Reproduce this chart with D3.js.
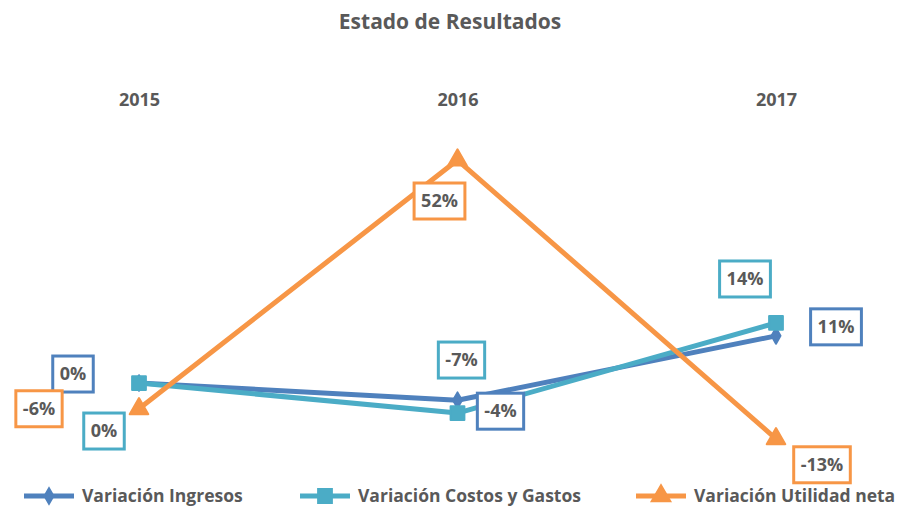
<!DOCTYPE html>
<html>
<head>
<meta charset="utf-8">
<script src="https://cdn.jsdelivr.net/npm/d3@7"></script>
<style>
  body { margin: 0; background: #fff; }
  text { font-family: "Open Sans", "Liberation Sans", sans-serif; font-weight: bold; fill: #595959; }
</style>
</head>
<body>
<div id="chart"></div>
<script>
// chart values
var years = ["2015", "2016", "2017"];
var ingresos = [0.00, -0.04, 0.11];
var costos = [0.00, -0.07, 0.14];
var utilidad = [-0.06, 0.52, -0.13];
var seriesNames = ["Variación Ingresos", "Variación Costos y Gastos", "Variación Utilidad neta"];

var width = 898, height = 506;

var svg = d3.select("#chart").append("svg")
    .attr("width", width)
    .attr("height", height);

// title
svg.append("text")
    .attr("x", 450).attr("y", 22)
    .attr("dy", "0.35em")
    .attr("text-anchor", "middle")
    .style("font-size", "21px")
    .text("Estado de Resultados");

var x = d3.scalePoint().domain(years).range([139, 776]);
var y = d3.scaleLinear().domain([-0.2, 0.6]).range([468.8, 125.7]);

// category axis at top, no line / ticks
var xAxis = svg.append("g")
    .attr("transform", "translate(0,100)")
    .call(d3.axisTop(x).tickSize(0).tickPadding(0));
xAxis.select(".domain").remove();
xAxis.selectAll("text")
    .attr("dy", "0.35em")
    .style("font-size", "18px")
    .style("font-family", "'Open Sans', sans-serif")
    .attr("fill", "#595959");

var series = [
  {name: seriesNames[0], values: ingresos, color: "#4F81BD", symbol: d3.symbolDiamond, size: 70,
   offsets: [[-66, -9], [43, 11], [60, -9]]},
  {name: seriesNames[1], values: costos, color: "#4BACC6", symbol: d3.symbolSquare, size: 190,
   offsets: [[-35, 48], [4, -53], [-31, -44]]},
  {name: seriesNames[2], values: utilidad, color: "#F79646", symbol: d3.symbolTriangle, size: 150,
   offsets: [[-100, 0], [-18, 41], [46, 26]]}
];

var line = d3.line()
    .x(function(d, i) { return x(years[i]); })
    .y(function(d) { return y(d); });

var pct = function(v) { return d3.format(".0%")(v).replace("\u2212", "-"); };

series.forEach(function(s) {
  svg.append("path")
      .datum(s.values)
      .attr("d", line)
      .attr("fill", "none")
      .attr("stroke", s.color)
      .attr("stroke-width", 5)
      .attr("stroke-linejoin", "round");

  svg.selectAll(null)
      .data(s.values)
      .enter().append("path")
      .attr("d", d3.symbol().type(s.symbol).size(s.size))
      .attr("transform", function(d, i) { return "translate(" + x(years[i]) + "," + y(d) + ")"; })
      .attr("fill", s.color)
      .attr("stroke", s.color)
      .attr("stroke-width", 2)
      .attr("stroke-linejoin", "round");
});

// data labels in boxes
series.forEach(function(s) {
  s.values.forEach(function(v, i) {
    var cx = x(years[i]) + s.offsets[i][0];
    var cy = y(v) + s.offsets[i][1];
    var g = svg.append("g").attr("transform", "translate(" + cx + "," + cy + ")");
    var t = g.append("text")
        .attr("text-anchor", "middle")
        .attr("dy", "0.35em")
        .style("font-size", "18px")
        .text(pct(v));
    var w = t.node().getComputedTextLength() + 14;
    g.insert("rect", "text")
        .attr("x", -w / 2).attr("y", -18)
        .attr("width", w).attr("height", 36)
        .attr("fill", "#fff")
        .attr("stroke", s.color)
        .attr("stroke-width", 3);
  });
});

// legend
var legendX = [24, 300, 636];
series.forEach(function(s, i) {
  var g = svg.append("g").attr("transform", "translate(" + legendX[i] + ",496)");
  g.append("line")
      .attr("x1", 0).attr("x2", 50)
      .attr("stroke", s.color).attr("stroke-width", 5);
  g.append("path")
      .attr("d", d3.symbol().type(s.symbol).size(s.size))
      .attr("transform", "translate(25,0)")
      .attr("fill", s.color)
      .attr("stroke", s.color)
      .attr("stroke-width", 2);
  g.append("text")
      .attr("x", 58).attr("dy", "0.35em")
      .style("font-size", "17.5px")
      .text(s.name);
});
</script>
</body>
</html>
